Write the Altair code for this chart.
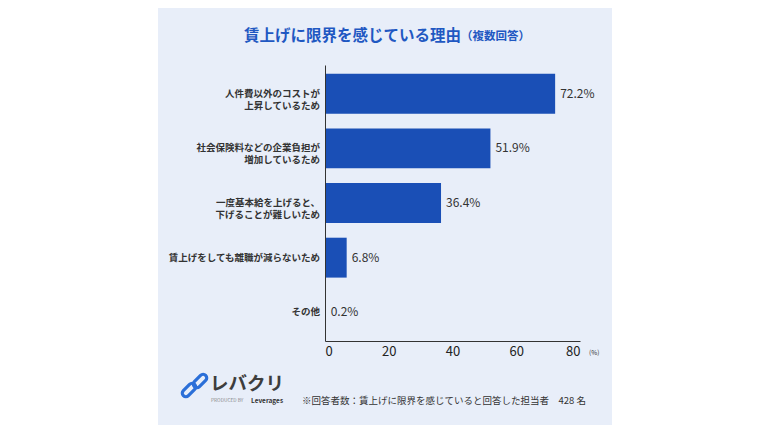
import altair as alt
import pandas as pd

# reasons for hitting the limit of wage increases (multiple answers)
reasons = [
    "人件費以外のコストが\n上昇しているため",
    "社会保険料などの企業負担が\n増加しているため",
    "一度基本給を上げると、\n下げることが難しいため",
    "賃上げをしても離職が減らないため",
    "その他",
]
rates = [72.2, 51.9, 36.4, 6.8, 0.2]
x_ticks = [0, 20, 40, 60, 80]

title_main = "賃上げに限界を感じている理由"
title_sub = "（複数回答）"
note = "※回答者数：賃上げに限界を感じていると回答した担当者　428 名"

FONT = "Noto Sans CJK JP"
BAR = "#1a4fb6"
TITLE = "#1f58c2"
PANEL = "#e8eef9"
TEXT = "#333333"

df = pd.DataFrame({"reason": reasons, "rate": rates})
df["label"] = [f"{r}%" for r in rates]

one = alt.Data(values=[{}])

y_enc = alt.Y("reason:N", sort=None,
              scale=alt.Scale(paddingInner=0.27, paddingOuter=0.16),
              axis=alt.Axis(labels=False, ticks=False, title=None, zindex=1,
                            domainColor=TEXT, domainWidth=1))

panel = alt.Chart(one).mark_rect(color=PANEL).encode(
    x=alt.value(-167), x2=alt.value(287), y=alt.value(-57), y2=alt.value(360)
)

bars = alt.Chart(df).mark_bar(color=BAR).encode(
    x=alt.X("rate:Q", scale=alt.Scale(domain=[0, 80], nice=False),
            axis=alt.Axis(values=x_ticks, grid=False, ticks=False, title=None, zindex=1,
                          domainColor=TEXT, domainWidth=1, labelFontSize=13,
                          labelColor="#222222", labelPadding=4, labelFont=FONT)),
    y=y_enc,
)

values = alt.Chart(df).mark_text(align="left", baseline="middle", dx=5,
                                 fontSize=12, color=TEXT, font=FONT).encode(
    x="rate:Q", y=alt.Y("reason:N", sort=None), text="label:N"
)

cats = alt.Chart(df).mark_text(align="right", baseline="middle", lineBreak="\n",
                               fontSize=9.5, lineHeight=12, fontWeight="bold",
                               color=TEXT, font=FONT).encode(
    x=alt.value(-5), y=alt.Y("reason:N", sort=None), text="reason:N"
)

def note_text(text, x, y, size, align="left", weight="normal", color=TEXT):
    return alt.Chart(one).mark_text(align=align, baseline="middle", fontSize=size,
                                    fontWeight=weight, color=color, font=FONT).encode(
        x=alt.value(x), y=alt.value(y), text=alt.value(text)
    )

pct = alt.Chart(one).mark_text(align="left", baseline="middle", dx=9, fontSize=6.5,
                               color=TEXT, font=FONT).encode(
    x=alt.datum(80), y=alt.value(288), text=alt.value("(%)")
)

capsule = ("M -0.55 -0.45 L 0.55 -0.45 A 0.45 0.45 0 0 1 0.55 0.45 "
           "L -0.55 0.45 A 0.45 0.45 0 0 1 -0.55 -0.45 Z")

def link(x, y):
    return alt.Chart(one).mark_point(
        shape=capsule, size=256, angle=315, filled=False, strokeWidth=3.2,
        color="#2b6fd8", opacity=1
    ).encode(x=alt.value(x), y=alt.value(y))

chart = alt.layer(
    panel, bars, values, cats, pct,
    note_text(title_main, 136, -29, 15.5, align="right", weight="bold", color=TITLE),
    note_text(title_sub, 136, -28, 11.5, weight="bold", color=TITLE),
    note_text(note, -23, 336, 9.5),
    note_text("レバクリ", -115, 319, 18.5, weight="bold", color="#3d3d3d"),
    note_text("PRODUCED BY", -114, 336, 4.8, color="#8a8a8a"),
    note_text("Leverages", -74, 336, 6.5, weight="bold"),
    link(-136, 325), link(-125, 316),
).properties(
    width=255,
    height=276,
    autosize="none",
    padding={"left": 317, "top": 57, "right": 182, "bottom": 84},
    background="white",
).configure_view(
    stroke=None
)

chart.save("out.html", embed_options={"renderer": "svg", "actions": False})
